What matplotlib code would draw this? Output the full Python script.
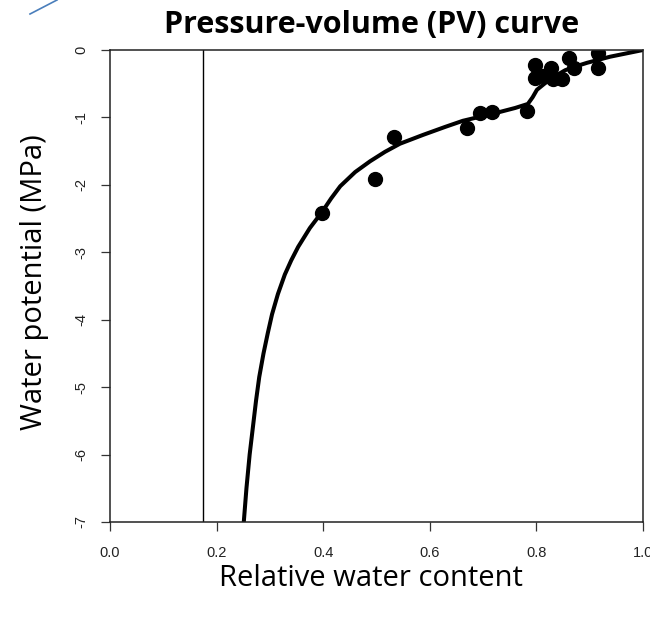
import numpy as np
import matplotlib
matplotlib.use("Agg")
import matplotlib.pyplot as plt
from matplotlib.lines import Line2D

# Measured points: relative water content vs water potential (MPa)
rwc = [0.398, 0.497, 0.533, 0.670, 0.694, 0.717, 0.782,
       0.797, 0.797, 0.812, 0.827, 0.831, 0.848, 0.861, 0.871, 0.916, 0.916]
psi = [-2.42, -1.91, -1.29, -1.15, -0.93, -0.92, -0.91,
       -0.22, -0.42, -0.39, -0.27, -0.43, -0.43, -0.12, -0.27, -0.04, -0.27]

# Fitted PV curve
fit_rwc = [0.251, 0.256, 0.262, 0.268, 0.274, 0.280, 0.288, 0.296, 0.304,
           0.315, 0.328, 0.340, 0.353, 0.375, 0.398, 0.415, 0.432, 0.460,
           0.488, 0.516, 0.544, 0.587, 0.629, 0.662, 0.694, 0.726, 0.760,
           0.784, 0.793, 0.801, 0.815, 0.830, 0.854, 0.875, 0.895, 0.938, 1.0]
fit_psi = [-7.00, -6.50, -6.00, -5.60, -5.20, -4.85, -4.50, -4.20, -3.92,
           -3.62, -3.33, -3.12, -2.92, -2.64, -2.40, -2.20, -2.02, -1.81,
           -1.65, -1.51, -1.39, -1.26, -1.14, -1.05, -0.99, -0.93, -0.86,
           -0.80, -0.70, -0.59, -0.50, -0.41, -0.30, -0.24, -0.19, -0.10, 0.0]

# Apoplastic water fraction
apo_frac = 0.175

xticks = [0.0, 0.2, 0.4, 0.6, 0.8, 1.0]
yticks = [0, -1, -2, -3, -4, -5, -6, -7]

fig = plt.figure(figsize=(6.5, 6.19), dpi=100)
ax = fig.add_axes([110 / 650, 1 - 522 / 619, 533 / 650, 472 / 619])

ax.plot(fit_rwc, fit_psi, color="black", lw=2.9, solid_joinstyle="round")
ax.plot(rwc, psi, "o", color="black", ms=10, mec="black")
ax.axvline(apo_frac, color="black", lw=1.0)

ax.set_xlim(0, 1)
ax.set_ylim(-7, 0)
ax.set_xticks(xticks)
ax.set_xticklabels([f"{t:.1f}" for t in xticks], fontsize=10.5,
                   family="Liberation Sans", color="#222222")
ax.set_yticks(yticks)
ax.set_yticklabels([str(t) for t in yticks], fontsize=10.5,
                   family="Liberation Sans", color="#222222",
                   rotation=90, va="center")
ax.tick_params(direction="out", length=6.5, width=0.9, color="#333333")
ax.tick_params(axis="y", pad=9)
ax.tick_params(axis="x", pad=11)
for s in ax.spines.values():
    s.set_color("#222222")
    s.set_linewidth(1.1)

fig.text(372 / 650, 1 - 25 / 619, "Pressure-volume (PV) curve",
         ha="center", va="center", fontsize=22, fontweight="bold",
         family="Open Sans")
fig.text(371 / 650, 1 - 578 / 619, "Relative water content",
         ha="center", va="center", fontsize=21, family="Open Sans")
fig.text(35 / 650, 1 - 282 / 619, "Water potential (MPa)",
         ha="center", va="center", fontsize=21, family="Open Sans",
         rotation=90)

# stray connector line in the top-left corner
fig.add_artist(Line2D([30 / 650, 57 / 650], [1 - 14 / 619, 1.0],
                      color="#4a7ebb", lw=1.2, transform=fig.transFigure))

fig.savefig("out.png", dpi=100)
